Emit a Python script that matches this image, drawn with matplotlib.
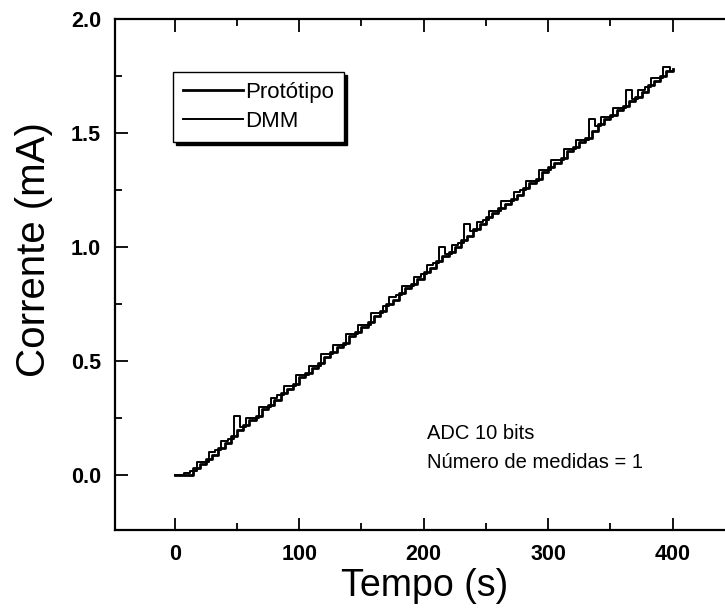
import matplotlib.pyplot as plt

plt.rcParams['font.family'] = ['Liberation Sans', 'DejaVu Sans']

# tempo (s), amostras a cada 5 s
tempo = [0, 5, 10, 15, 20, 25, 30, 35, 40, 45, 50, 55, 60, 65, 70, 75, 80, 85, 90, 95,
         100, 105, 110, 115, 120, 125, 130, 135, 140, 145, 150, 155, 160, 165, 170, 175, 180, 185, 190, 195,
         200, 205, 210, 215, 220, 225, 230, 235, 240, 245, 250, 255, 260, 265, 270, 275, 280, 285, 290, 295,
         300, 305, 310, 315, 320, 325, 330, 335, 340, 345, 350, 355, 360, 365, 370, 375, 380, 385, 390, 395,
         400]

# corrente lida pelo prototipo (mA)
prototipo = [0.00, 0.00, 0.00, 0.03, 0.05, 0.07, 0.09, 0.12, 0.14, 0.17, 0.20, 0.22, 0.24, 0.26, 0.29, 0.31, 0.33, 0.36, 0.38, 0.40,
             0.43, 0.45, 0.47, 0.49, 0.52, 0.54, 0.56, 0.58, 0.61, 0.63, 0.65, 0.67, 0.70, 0.72, 0.75, 0.77, 0.80, 0.82, 0.84, 0.86,
             0.89, 0.91, 0.94, 0.96, 0.98, 1.00, 1.03, 1.05, 1.08, 1.10, 1.13, 1.15, 1.17, 1.19, 1.21, 1.23, 1.26, 1.28, 1.30, 1.33,
             1.35, 1.37, 1.39, 1.42, 1.44, 1.46, 1.48, 1.51, 1.54, 1.56, 1.58, 1.60, 1.62, 1.64, 1.66, 1.68, 1.71, 1.73, 1.75, 1.77,
             1.78]

# corrente lida pelo multimetro (mA)
dmm = [0.00, 0.00, 0.01, 0.02, 0.06, 0.06, 0.10, 0.11, 0.15, 0.16, 0.26, 0.21, 0.25, 0.25, 0.30, 0.30, 0.34, 0.35, 0.39, 0.39,
       0.44, 0.44, 0.48, 0.48, 0.53, 0.53, 0.57, 0.57, 0.62, 0.62, 0.66, 0.66, 0.71, 0.71, 0.74, 0.78, 0.79, 0.83, 0.83, 0.87,
       0.88, 0.92, 0.93, 1.00, 0.97, 1.01, 1.02, 1.10, 1.07, 1.11, 1.12, 1.16, 1.16, 1.20, 1.20, 1.24, 1.25, 1.29, 1.29, 1.34,
       1.34, 1.38, 1.38, 1.43, 1.43, 1.47, 1.47, 1.56, 1.53, 1.57, 1.57, 1.61, 1.61, 1.69, 1.65, 1.69, 1.70, 1.74, 1.74, 1.79,
       1.77]

fig = plt.figure(figsize=(7.25, 6.12), dpi=100)
ax = fig.add_axes([0.1586, 0.134, 0.855, 0.835])

ax.plot(tempo, prototipo, color='black', lw=2.0, drawstyle='steps-post', label='Protótipo')
ax.plot(tempo, dmm, color='black', lw=1.4, drawstyle='steps-mid', label='DMM')

ax.set_xlim(-48, 450)
ax.set_ylim(-0.24, 2.0)
ax.set_xticks([0, 100, 200, 300, 400])
ax.set_xticks([50, 150, 250, 350], minor=True)
ax.set_yticks([0.0, 0.5, 1.0, 1.5, 2.0])
ax.set_yticks([0.25, 0.75, 1.25, 1.75], minor=True)
ax.set_yticklabels(['0.0', '0.5', '1.0', '1.5', '2.0'])

ax.tick_params(which='both', direction='in', top=True, right=False, width=1.3)
ax.tick_params(which='major', length=9, labelsize=15.5, pad=10)
ax.tick_params(which='minor', length=5)
for lab in ax.get_xticklabels() + ax.get_yticklabels():
    lab.set_fontweight('bold')
for sp in ax.spines.values():
    sp.set_linewidth(1.6)

ax.set_xlabel('Tempo (s)', fontsize=27, labelpad=2)
ax.set_ylabel('Corrente (mA)', fontsize=29)
ax.yaxis.set_label_coords(-0.10, 0.548)

ax.text(203, 0.16, 'ADC 10 bits', fontsize=14.5)
ax.text(203, 0.03, 'Número de medidas = 1', fontsize=14.5)

leg = ax.legend(loc='upper left', bbox_to_anchor=(0.0935, 0.896), borderaxespad=0,
                fontsize=16, handlelength=2.7, handletextpad=0.1, borderpad=0.45,
                labelspacing=0.35, fancybox=False, framealpha=1,
                shadow={'color': 'black', 'alpha': 1})
leg.get_frame().set_edgecolor('black')
leg.get_frame().set_linewidth(1.0)

fig.savefig('out.png', dpi=100)
